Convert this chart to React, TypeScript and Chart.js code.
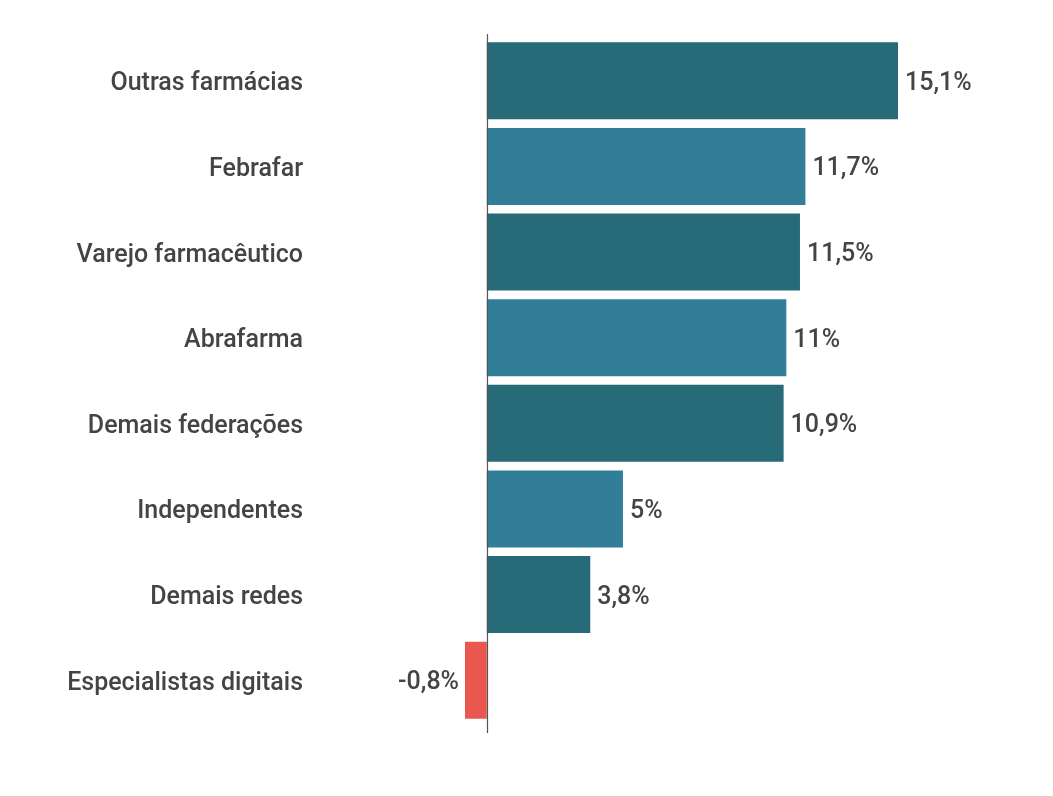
import React, { useEffect, useRef } from 'react';
import { Chart, registerables } from 'chart.js';

Chart.register(...registerables);

const categorias = [
  'Outras farmácias',
  'Febrafar',
  'Varejo farmacêutico',
  'Abrafarma',
  'Demais federações',
  'Independentes',
  'Demais redes',
  'Especialistas digitais',
];

const crescimento = [15.1, 11.7, 11.5, 11, 10.9, 5, 3.8, -0.8];

const corEscura = '#276a78';
const corClara = '#327e99';
const corNegativa = '#e9574e';
const corTexto = '#444444';
const fonte = '500 25px Roboto';

const formatar = (v: number) => `${v.toLocaleString('pt-BR')}%`;

// Rótulos de valor ao lado das barras
const rotulosValor = {
  id: 'rotulosValor',
  afterDatasetsDraw(chart: any) {
    const { ctx } = chart;
    const meta = chart.getDatasetMeta(0);
    ctx.save();
    ctx.font = fonte;
    ctx.fillStyle = corTexto;
    ctx.textBaseline = 'alphabetic';
    meta.data.forEach((bar: any, i: number) => {
      const v = crescimento[i];
      if (v >= 0) {
        ctx.textAlign = 'left';
        ctx.fillText(formatar(v), bar.x + 7, bar.y + 9);
      } else {
        ctx.textAlign = 'right';
        ctx.fillText(formatar(v), bar.x - 6, bar.y + 9);
      }
    });
    ctx.restore();
  },
};

// Nomes das categorias, alinhados à direita, afastados do eixo
const rotulosCategoria = {
  id: 'rotulosCategoria',
  afterDraw(chart: any) {
    const { ctx, chartArea } = chart;
    const escalaY = chart.scales.y;
    ctx.save();
    ctx.font = fonte;
    ctx.fillStyle = corTexto;
    ctx.textAlign = 'right';
    ctx.textBaseline = 'alphabetic';
    categorias.forEach((nome, i) => {
      ctx.fillText(nome, chartArea.left - 162, escalaY.getPixelForTick(i) + 9.5);
    });
    ctx.restore();
  },
};

// Linha do zero
const linhaZero = {
  id: 'linhaZero',
  afterDatasetsDraw(chart: any) {
    const { ctx, chartArea } = chart;
    const x = Math.round(chart.scales.x.getPixelForValue(0)) + 0.5;
    ctx.save();
    ctx.strokeStyle = '#555555';
    ctx.lineWidth = 1.2;
    ctx.beginPath();
    ctx.moveTo(x, chartArea.top - 4);
    ctx.lineTo(x, chartArea.bottom + 10);
    ctx.stroke();
    ctx.restore();
  },
};

const App: React.FC = () => {
  const chartRef = useRef<HTMLCanvasElement>(null);

  useEffect(() => {
    if (!chartRef.current) return;
    const ctx = chartRef.current.getContext('2d');
    if (!ctx) return;

    const cores = crescimento.map((v, i) =>
      v < 0 ? corNegativa : i % 2 === 0 ? corEscura : corClara
    );

    const chart = new Chart(ctx, {
      type: 'bar',
      data: {
        labels: categorias,
        datasets: [
          {
            data: crescimento,
            backgroundColor: cores,
            borderWidth: 0,
            barPercentage: 0.9,
            categoryPercentage: 1,
          },
        ],
      },
      options: {
        indexAxis: 'y',
        responsive: false,
        maintainAspectRatio: false,
        animation: false,
        layout: {
          padding: { top: 38, bottom: 73, right: 155, left: 0 },
        },
        plugins: {
          legend: { display: false },
          tooltip: { enabled: false },
        },
        scales: {
          x: {
            display: false,
            min: -0.8,
            max: 15.1,
          },
          y: {
            afterFit: (scale: any) => {
              scale.width = 465;
            },
            grid: { display: false, drawTicks: false },
            border: { display: false },
            ticks: { display: false },
          },
        },
      },
      plugins: [rotulosValor, rotulosCategoria, linhaZero],
    });

    return () => {
      chart.destroy();
    };
  }, []);

  return (
    <div
      style={{
        position: 'fixed',
        left: 0,
        top: 0,
        width: 1053,
        height: 796,
        background: '#ffffff',
      }}
    >
      <canvas
        ref={chartRef}
        width={1053}
        height={796}
        style={{ width: 1053, height: 796, display: 'block' }}
      ></canvas>
    </div>
  );
};

export default App;
